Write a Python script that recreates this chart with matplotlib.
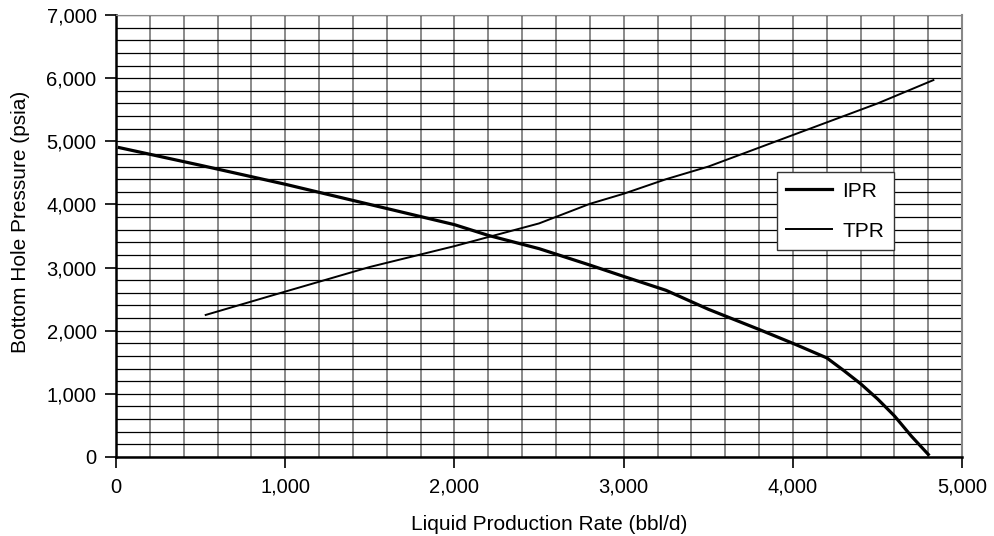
import numpy as np
import matplotlib.pyplot as plt
from matplotlib.ticker import MultipleLocator, FuncFormatter

# IPR curve (inflow performance)
ipr_rate = [20, 500, 1000, 1500, 2000, 2200, 2500, 2800, 3000, 3250, 3500, 3800, 4000, 4200, 4300, 4400, 4500, 4600, 4700, 4800]
ipr_pwf = [4900, 4620, 4320, 4000, 3680, 3510, 3300, 3040, 2860, 2640, 2340, 2020, 1800, 1570, 1370, 1160, 920, 650, 330, 40]

# TPR curve (tubing performance)
tpr_rate = [530, 1000, 1500, 2000, 2500, 2800, 3000, 3250, 3500, 4000, 4500, 4830]
tpr_pwf = [2250, 2620, 3010, 3340, 3700, 4010, 4170, 4400, 4600, 5100, 5600, 5970]

plt.rcParams['font.family'] = ['Liberation Sans', 'DejaVu Sans']

fig = plt.figure(figsize=(9.95, 5.36), dpi=100)
ax = fig.add_axes([0.1166, 0.1474, 0.8504, 0.8245])

ax.plot(ipr_rate, ipr_pwf, color='black', lw=2.3, label='IPR', zorder=3)
ax.plot(tpr_rate, tpr_pwf, color='black', lw=1.4, label='TPR', zorder=3)

ax.set_xlim(0, 5000)
ax.set_ylim(0, 7000)
ax.xaxis.set_major_locator(MultipleLocator(1000))
ax.yaxis.set_major_locator(MultipleLocator(1000))
ax.xaxis.set_minor_locator(MultipleLocator(200))
ax.yaxis.set_minor_locator(MultipleLocator(200))
fmt = FuncFormatter(lambda v, p: f"{int(v):,}")
ax.xaxis.set_major_formatter(fmt)
ax.yaxis.set_major_formatter(fmt)

ax.grid(True, axis='x', which='both', color='#777777', lw=1.2)
ax.grid(True, axis='y', which='both', color='black', lw=0.9)
ax.set_axisbelow(True)

ax.tick_params(which='minor', length=0)
ax.tick_params(which='major', direction='out', length=8, width=1.2, labelsize=14.5)
ax.tick_params(axis='y', pad=6)
ax.tick_params(axis='x', pad=7)

ax.spines['left'].set_linewidth(1.8)
ax.spines['bottom'].set_linewidth(1.8)
ax.spines['top'].set_color('#888888')
ax.spines['right'].set_color('#888888')
ax.spines['right'].set_linewidth(1.5)

ax.set_xlabel('Liquid Production Rate (bbl/d)', fontsize=15, labelpad=13)
ax.set_ylabel('Bottom Hole Pressure (psia)', fontsize=15, labelpad=12)
ax.xaxis.label.set_x(0.512)
ax.yaxis.label.set_y(0.531)

leg = ax.legend(loc='upper left', bbox_to_anchor=(0.781, 0.644), borderaxespad=0,
                fontsize=15, fancybox=False, framealpha=1, edgecolor='#333333',
                handlelength=2.2, handletextpad=0.5, labelspacing=1.0, borderpad=0.45)
leg.get_frame().set_linewidth(1.0)

fig.savefig('out.png', dpi=100)
